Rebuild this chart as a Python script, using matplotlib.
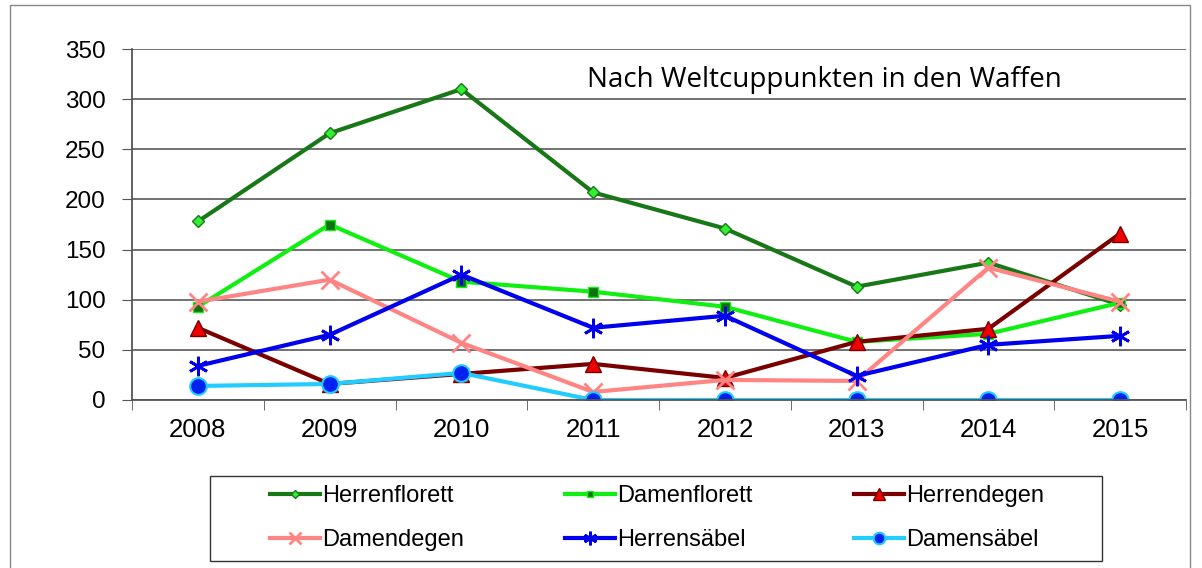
import matplotlib.pyplot as plt
import matplotlib.patches as mpatches

# Daten
jahre = ["2008", "2009", "2010", "2011", "2012", "2013", "2014", "2015"]
herrenflorett = [178, 266, 310, 207, 171, 113, 137, 95]
damenflorett = [93, 175, 118, 108, 93, 58, 66, 97]
herrendegen = [72, 16, 26, 36, 22, 58, 71, 166]
damendegen = [98, 120, 57, 8, 20, 19, 132, 98]
herrensaebel = [34, 65, 125, 72, 84, 24, 55, 64]
damensaebel = [14, 16, 27, 0, 0, 0, 0, 0]

W, H = 1202, 568
fig = plt.figure(figsize=(W / 100, H / 100), dpi=100)
ax = fig.add_axes([132 / W, 168 / H, 1054 / W, 351 / H])

x = range(len(jahre))
l1, = ax.plot(x, herrenflorett, color="#187818", lw=3, marker="D", ms=6,
              mfc="#33ee33", mec="#187818", mew=1, label="Herrenflorett")
l2, = ax.plot(x, damenflorett, color="#11ee11", lw=3, marker="s", ms=7,
              mfc="#117011", mec="#11ee11", mew=1, label="Damenflorett")
l3, = ax.plot(x, herrendegen, color="#7a0000", lw=3, marker="^", ms=12,
              mfc="#ee0000", mec="#7a0000", mew=1, label="Herrendegen")
l4, = ax.plot(x, damendegen, color="#ff8585", lw=3, marker="x", ms=13,
              mec="#ff8585", mew=2, label="Damendegen")
l5, = ax.plot(x, herrensaebel, color="#0000ee", lw=3, marker=(6, 2, 0), ms=14,
              mec="#0000ee", mew=2, label="Herrensäbel")
l6, = ax.plot(x, damensaebel, color="#22ccff", lw=3, marker="o", ms=12,
              mfc="#0022ee", mec="#22ccff", mew=1.5, label="Damensäbel")

ax.set_xlim(-0.5, 7.5)
ax.set_ylim(0, 350)
ax.set_yticks(range(0, 351, 50))
ax.set_xticks(list(x))
ax.set_xticklabels(jahre)
ax.set_xticks([i + 0.5 for i in range(-1, 8)], minor=True)
ax.tick_params(axis="x", which="major", length=0, pad=13)
ax.tick_params(axis="x", which="minor", length=7, direction="out", color="#555555")
ax.tick_params(axis="y", length=7, direction="out", color="#555555", pad=12)
for lbl in ax.get_xticklabels():
    lbl.set_fontfamily("Liberation Sans")
    lbl.set_fontsize(18.5)
for lbl in ax.get_yticklabels():
    lbl.set_fontfamily("Liberation Sans")
    lbl.set_fontsize(17.5)

ax.grid(axis="y", color="#666666", lw=1.3)
ax.set_axisbelow(True)
for s in ["top", "right"]:
    ax.spines[s].set_visible(False)
for s in ["left", "bottom"]:
    ax.spines[s].set_color("#555555")
    ax.spines[s].set_linewidth(1.3)

fig.text(587 / W, 1 - 80 / H, "Nach Weltcuppunkten in den Waffen",
         fontsize=20, family="Open Sans", va="center", ha="left")

# Rahmen ums Diagramm
fig.patches.append(mpatches.Rectangle((10 / W, -0.01), 1180 / W, 1 - 5 / H + 0.01,
                                      transform=fig.transFigure, fill=False,
                                      edgecolor="#888888", lw=1))
# Rahmen der Legende
fig.patches.append(mpatches.Rectangle((210 / W, 1 - 561 / H), 892 / W, 85 / H,
                                      transform=fig.transFigure, fill=False,
                                      edgecolor="#333333", lw=1))

# zeilenweise Reihenfolge wie im Original
handles = [l1, l4, l2, l5, l3, l6]
fig.legend(handles=handles, labels=[h.get_label() for h in handles],
           loc="center left", bbox_to_anchor=(270 / W, 1 - 518 / H), ncol=3,
           frameon=False, prop={"family": "Liberation Sans", "size": 17},
           handlelength=2.1, handletextpad=0.1, columnspacing=4.3,
           labelspacing=0.95, borderpad=0, borderaxespad=0, markerscale=0.7)

fig.savefig("out.png", dpi=100)
